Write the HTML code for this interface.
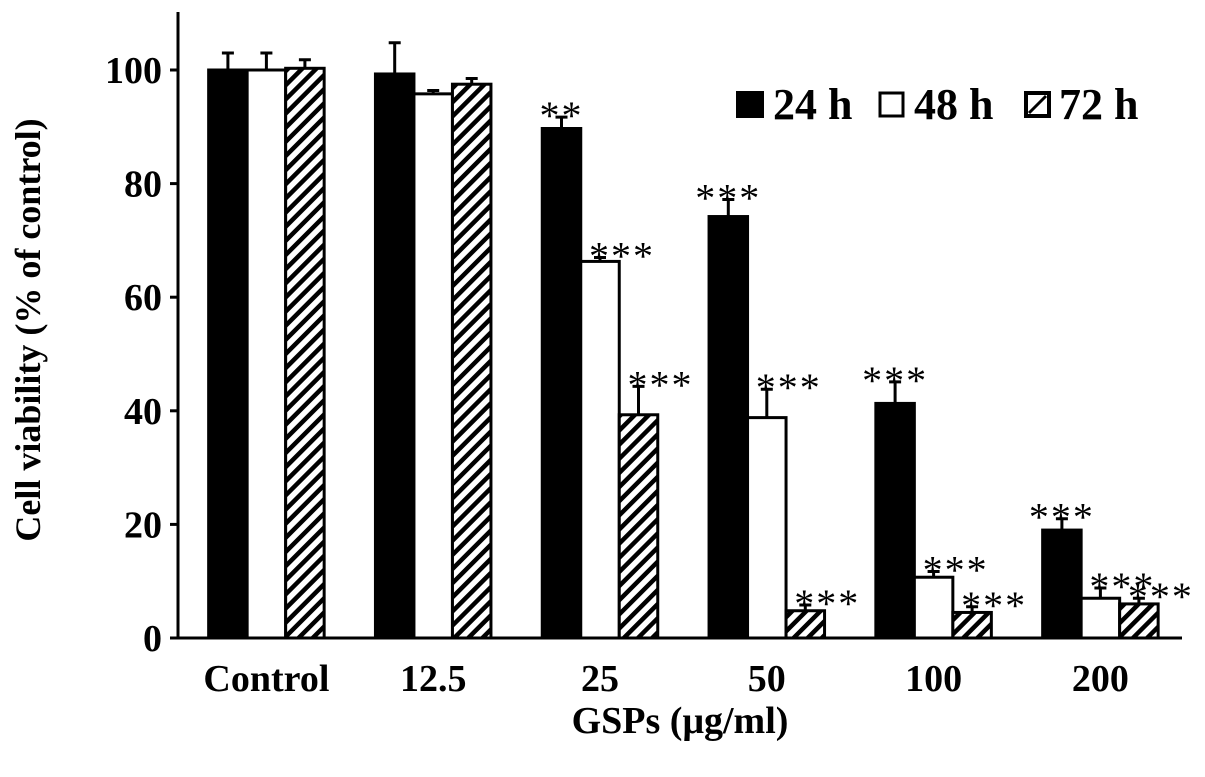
<!DOCTYPE html>
<html><head><meta charset="utf-8"><style>
body{margin:0;background:#fff}
svg{display:block;font-family:"Liberation Serif",serif;font-weight:bold}
</style></head><body>
<svg id="chart" width="1205" height="777" viewBox="0 0 1205 777">
<defs><pattern id="hatch" patternUnits="userSpaceOnUse" width="10" height="10" patternTransform="rotate(45)"><rect width="10" height="10" fill="#fff"/><rect width="4.5" height="10" fill="#000"/></pattern></defs>
<g id="axes"></g><g id="bars"></g>
<text transform="translate(40,330) rotate(-90)" text-anchor="middle" font-size="36">Cell viability (% of control)</text>
<text x="680" y="733" text-anchor="middle" font-size="38">GSPs (μg/ml)</text>
<g>
<rect x="736" y="91" width="28" height="27" fill="#000"/>
<text x="773" y="119" font-size="44">24 h</text>
<rect x="880" y="93" width="23" height="23" fill="#fff" stroke="#000" stroke-width="3"/>
<text x="914" y="119" font-size="44">48 h</text>
<rect x="1026" y="93" width="23" height="23" fill="#fff" stroke="#000" stroke-width="4"/>
<line x1="1029" y1="113" x2="1046" y2="96" stroke="#000" stroke-width="3"/>
<text x="1059" y="119" font-size="44">72 h</text>
</g>
</svg>
<script>
const categories=["Control","12.5","25","50","100","200"];
const v24=[100,99.3,89.7,74.2,41.3,19];
const v48=[100,95.8,66.3,38.8,10.7,7];
const v72=[100.3,97.5,39.3,4.8,4.5,6];
const e24=[3,5.5,2,3,3.8,2];
const e48=[3,0.6,0.7,5,1,1.8];
const e72=[1.5,1,5,1,1,1];
const sig24=["","","**","***","***","***"];
const sig48=["","","***","***","***","***"];
const sig72=["","","***","***","***","***"];
const yTicks=[0,20,40,60,80,100];
const NS="http://www.w3.org/2000/svg";
const y0=638,ppu=5.68,x0=178,gw=166.8,bw=38.5;
const Y=v=>y0-v*ppu;
const X=i=>x0+5+gw*(i+0.5);
function mk(t,a,p){const e=document.createElementNS(NS,t);for(const k in a)e.setAttribute(k,a[k]);p.appendChild(e);return e;}
const ax=document.getElementById('axes'),bars=document.getElementById('bars');
let l=mk('line',{x1:x0,y1:12,x2:x0,y2:y0,stroke:'#000','stroke-width':3},ax);


l=mk('line',{x1:x0,y1:y0,x2:1182,y2:y0,stroke:'#000','stroke-width':3},ax);


yTicks.forEach(t=>{
 mk('line',{x1:x0-8,y1:Y(t),x2:x0,y2:Y(t),stroke:'#000','stroke-width':3},ax);
 const tx=mk('text',{x:x0-16,y:Y(t)+13,'text-anchor':'end','font-size':38},ax);
 tx.textContent=t;
 
 
});
categories.forEach((c,i)=>{
 const tx=mk('text',{x:X(i),y:y0+53,'text-anchor':'middle','font-size':38},ax);
 tx.textContent=c;
 
 
});
const series=[[v24,e24,sig24,'#000','24h'],[v48,e48,sig48,'#fff','48h'],[v72,e72,sig72,'url(#hatch)','72h']];
categories.forEach((c,i)=>{
 series.forEach((s,j)=>{
  const v=s[0][i],e=s[1][i],xl=X(i)-1.5*bw+j*bw;
  const r=mk('rect',{x:xl,y:Y(v),width:bw,height:y0-Y(v),fill:s[3],stroke:'#000','stroke-width':3},bars);
  
  
  const cx=xl+bw/2;
  const eb=mk('path',{d:`M${cx},${Y(v)} V${Y(v+e)} M${cx-6},${Y(v+e)} H${cx+6}`,stroke:'#000','stroke-width':3,fill:'none'},bars);
  
  
  if(s[2][i]){
   const t=mk('text',{x:cx+(j==0?0:22),y:Y(v+e)+12,'text-anchor':'middle','font-size':40,'font-weight':'normal','letter-spacing':'2'},bars);
   t.textContent=s[2][i];
   
   
  }
 });
});
</script>
</body></html>
